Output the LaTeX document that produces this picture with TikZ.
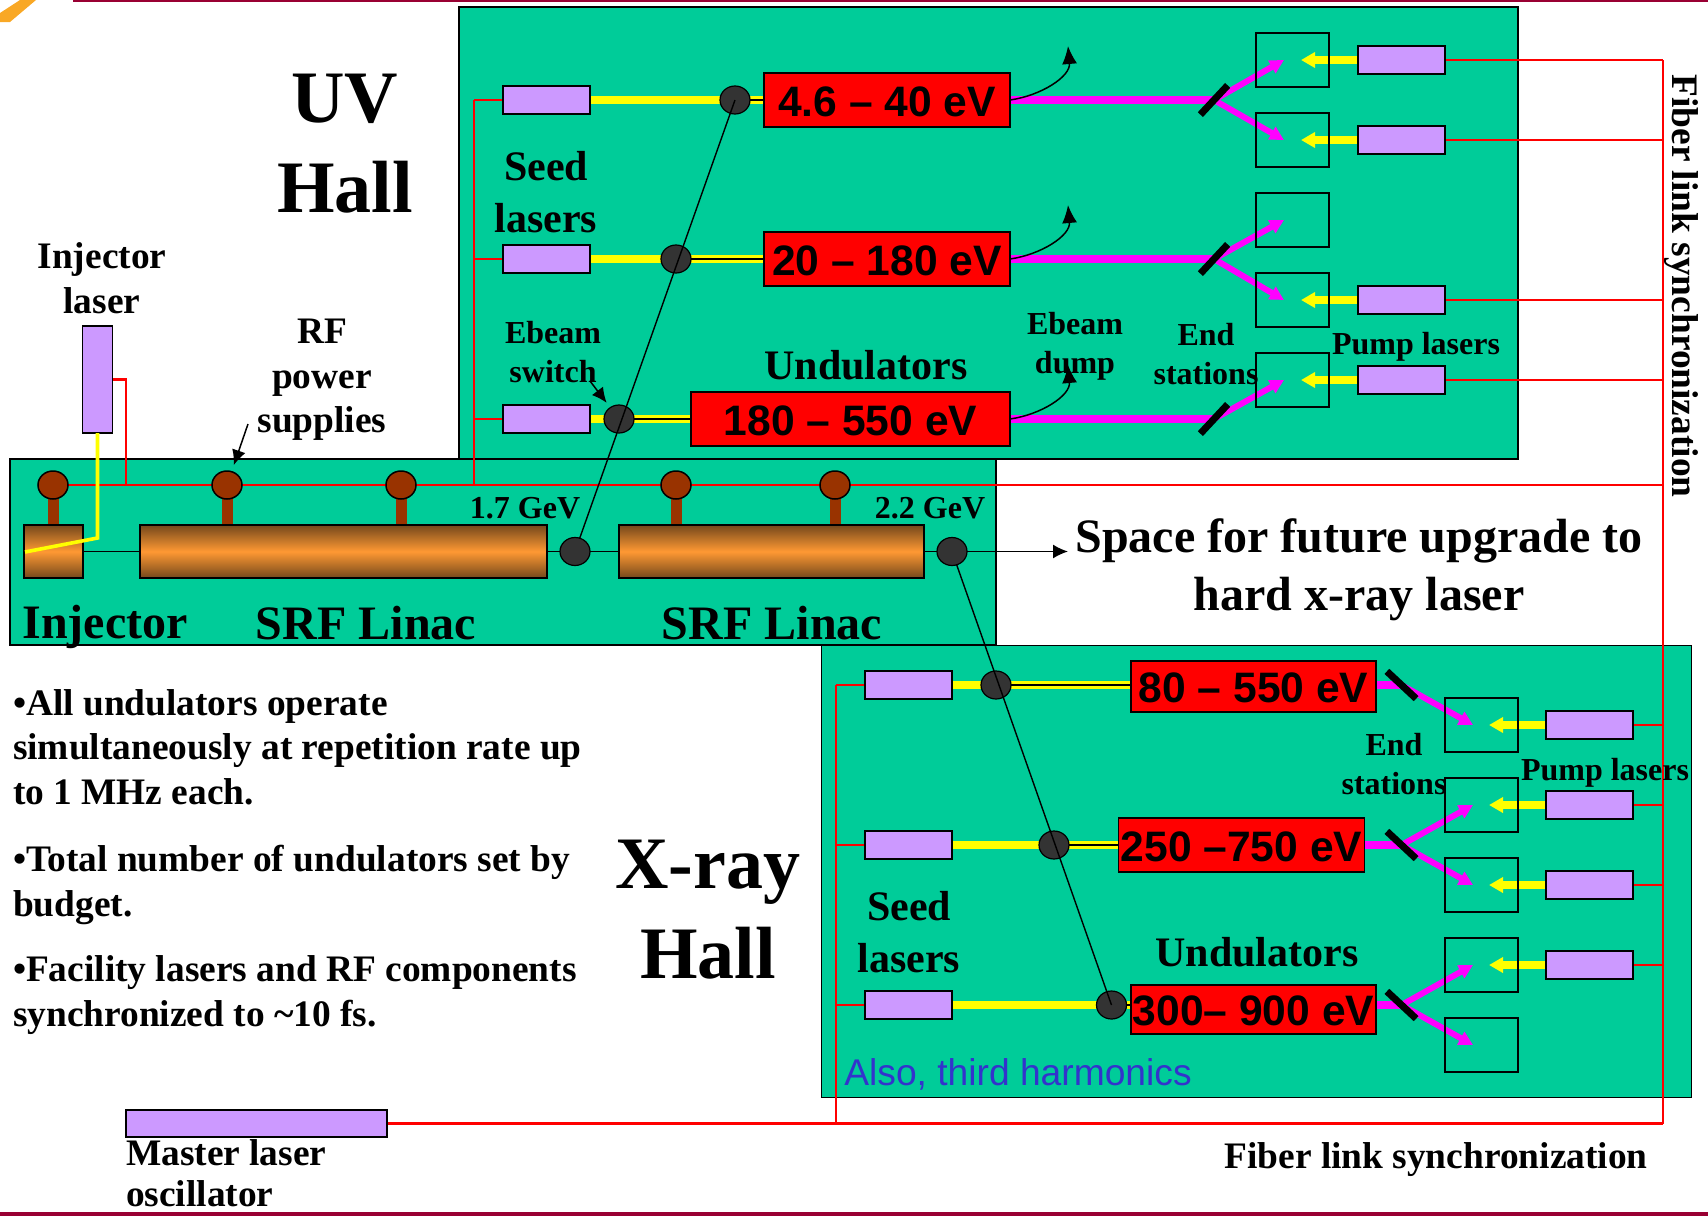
\documentclass[tikz,border=0pt]{standalone}
\usepackage{fontspec}
\setmainfont{Liberation Serif}
\newfontfamily\arialfont{Liberation Sans}
\usepackage{xcolor}
\usepackage{tikz}
\usetikzlibrary{shapes.geometric,arrows.meta,positioning,calc}
\definecolor{hallgreen}{HTML}{00CC99}
\definecolor{laserlilac}{HTML}{CC99FF}
\definecolor{rfbrown}{HTML}{993300}
\definecolor{cavedge}{HTML}{74481C}
\definecolor{cavmid}{HTML}{FF9933}
\definecolor{slidebar}{HTML}{990033}
\definecolor{dotgray}{HTML}{333333}
\definecolor{noteblue}{HTML}{3333CC}
\definecolor{xraypink}{HTML}{FF00FF}
\definecolor{pureyellow}{HTML}{FFFF00}
\definecolor{purered}{HTML}{FF0000}
\definecolor{pencilorange}{HTML}{F9A825}
\pgfdeclarelayer{halls}
\pgfdeclarelayer{beams}
\pgfsetlayers{halls,beams,main}

\begin{document}
\begin{tikzpicture}[
  x=0.5pt, y=-0.5pt,
  every node/.style={inner sep=0pt, outer sep=0pt, font=\bfseries},
  hall/.style={rectangle, draw=black, line width=0.75pt, fill=hallgreen},
  laser/.style={rectangle, draw=black, line width=0.85pt, fill=laserlilac,
                minimum width=43.5pt, minimum height=14pt},
  undulator/.style={rectangle, draw=black, line width=0.85pt, fill=purered, minimum height=27pt,
                    text height=16.2pt, text depth=0pt,
                    font=\arialfont\bfseries\fontsize{21.3}{25}\selectfont},
  station/.style={rectangle, draw=black, line width=0.75pt, minimum width=36.5pt, minimum height=27pt},
  beamdot/.style={ellipse, draw=black, line width=0.6pt, fill=dotgray, minimum width=15pt, minimum height=14pt},
  rfdot/.style={ellipse, draw=black, line width=0.75pt, fill=rfbrown, minimum width=15pt, minimum height=14pt},
  cavity/.style={rectangle, draw=black, line width=0.85pt, minimum height=26.5pt,
                 top color=cavedge, bottom color=cavedge, middle color=cavmid},
  mirrorbar/.style={rectangle, fill=black, minimum width=20pt, minimum height=3.5pt},
  title/.style={align=center, font=\bfseries\fontsize{37}{45}\selectfont},
  bigtext/.style={align=center, font=\bfseries\fontsize{24}{29}\selectfont},
  midtext/.style={align=center, font=\bfseries\fontsize{21}{26}\selectfont},
  bodytext/.style={align=left, font=\bfseries\fontsize{18.7}{22.3}\selectfont},
  smalltext/.style={align=center, font=\bfseries\fontsize{16}{19.5}\selectfont},
  fiber/.style={draw=purered, line width=1.2pt},
  thin line/.style={draw=black, line width=0.7pt},
  rfstem/.style={draw=rfbrown, line width=5.5pt},
  seedbeam/.style={draw=pureyellow, line width=4pt},
  bridge/.style={draw=pureyellow, line width=1.6pt, double=black, double distance=0.8pt},
  pumpbeam/.style={draw=pureyellow, line width=4pt, -{Triangle[length=7pt,width=7.5pt]}},
  xraybeam/.style={draw=xraypink, line width=4pt},
  xraybranch/.style={draw=xraypink, line width=3pt, -{Triangle[length=7pt,width=7pt]}},
  pointer/.style={draw=black, line width=0.75pt, -{Latex[length=7.5pt,width=7pt]}},
  dumpline/.style={draw=black, line width=0.75pt, -{Latex[length=9pt,width=7.5pt]}}
]
  \useasboundingbox (0,0) rectangle (1708,1216);

  \fill[slidebar] (73,0) rectangle (1708,2);
  \fill[slidebar] (0,1212) rectangle (1708,1216);
  \fill[pencilorange] (0,13) -- (20,0) -- (36,0) -- (10,22) -- (0,22) -- cycle;

  \begin{pgfonlayer}{halls}
    \node[hall, minimum width=529.5pt, minimum height=226pt] (hallUV) at (988.5,233) {};
    \node[hall, minimum width=435pt, minimum height=226pt] (hallX) at (1256.5,871.5) {};
    \node[hall, minimum width=493pt, minimum height=93pt] (hallLinac) at (503,552) {};
  \end{pgfonlayer}

  \node[cavity, minimum width=29.5pt] (injector) at (53.5,551.5) {};
  \node[cavity, minimum width=203.5pt, right=28.5pt of injector] (linacA) {};
  \node[beamdot, right=6.5pt of linacA] (dotLinA) {};
  \node[cavity, minimum width=152.5pt, right=14.5pt of dotLinA] (linacB) {};
  \node[beamdot, right=6.5pt of linacB] (dotLinB) {};
  \coordinate (upgrade) at (1068,551.5);

  \node[rfdot] (rfA) at (53,485) {};
  \node[rfdot] (rfB) at (227,485) {};
  \node[rfdot] (rfC) at (401,485) {};
  \node[rfdot] (rfD) at (676,485) {};
  \node[rfdot] (rfE) at (835,485) {};
  \node[laser, minimum width=15pt, minimum height=53.5pt] (injlaser) at (97.5,379.5) {};
  \node[laser, minimum width=130.5pt, minimum height=13.5pt] (master) at (256.5,1123.5) {};

  \node[laser] (seedUVa) at (546.5,100) {};
  \node[laser, below=65.5pt of seedUVa] (seedUVb) {};
  \node[laser, below=66pt of seedUVb] (seedUVc) {};
  \node[beamdot, right=65pt of seedUVa] (dotUVa) {};
  \node[beamdot, right=35.5pt of seedUVb] (dotUVb) {};
  \node[beamdot, right=7pt of seedUVc] (dotUVc) {};
  \node[undulator, minimum width=123pt, right=7pt of dotUVa] (undUVa) {4.6 – 40 eV};
  \node[undulator, minimum width=123pt, right=36.5pt of dotUVb] (undUVb) {20 – 180 eV};
  \node[undulator, minimum width=159.5pt, right=28.5pt of dotUVc] (undUVc) {180 – 550 eV};
  \node[mirrorbar, rotate=47] (mirUVa) at (1214,100) {};
  \node[mirrorbar, rotate=47] (mirUVb) at (1214,259) {};
  \node[mirrorbar, rotate=47] (mirUVc) at (1214,419) {};
  \coordinate[above right=27pt and 29pt of undUVa.east] (dumpA);
  \coordinate[above right=27pt and 29pt of undUVb.east] (dumpB);
  \coordinate[above right=27pt and 29pt of undUVc.east] (dumpC);

  \node[station] (stUVa) at (1292.5,60) {};
  \node[station, below=13pt of stUVa] (stUVb) {};
  \node[station, below=13pt of stUVb] (stUVc) {};
  \node[station, below=13pt of stUVc] (stUVd) {};
  \node[station, below=13pt of stUVd] (stUVe) {};
  \node[laser, right=14.5pt of stUVa] (pumpUVa) {};
  \node[laser, right=14.5pt of stUVb] (pumpUVb) {};
  \node[laser, right=14.5pt of stUVd] (pumpUVc) {};
  \node[laser, right=14.5pt of stUVe] (pumpUVd) {};

  \node[laser] (seedXa) at (908.5,685) {};
  \node[laser, below=66pt of seedXa] (seedXb) {};
  \node[laser, below=66pt of seedXb] (seedXc) {};
  \node[beamdot, right=14.5pt of seedXa] (dotXa) {};
  \node[beamdot, right=43.5pt of seedXb] (dotXb) {};
  \node[beamdot, right=72.25pt of seedXc] (dotXc) {};
  \node[undulator, minimum width=122.5pt, minimum height=25.5pt, right=60pt of dotXa, yshift=-0.75pt] (undXa) {80 – 550 eV};
  \node[undulator, minimum width=123pt, right=24.75pt of dotXb] (undXb) {250 –750 eV};
  \node[undulator, minimum width=122.5pt, minimum height=24.5pt, right=2.25pt of dotXc, yshift=-2.25pt] (undXc) {300– 900 eV};
  \node[mirrorbar, rotate=-43] (mirXa) at (1401.5,685) {};
  \node[mirrorbar, rotate=-43] (mirXb) at (1401.5,845) {};
  \node[mirrorbar, rotate=-43] (mirXc) at (1401.5,1005) {};

  \node[station] (stXa) at (1481.5,725) {};
  \node[station, below=13pt of stXa] (stXb) {};
  \node[station, below=13pt of stXb] (stXc) {};
  \node[station, below=13pt of stXc] (stXd) {};
  \node[station, below=13pt of stXd] (stXe) {};
  \node[laser, right=14pt of stXa] (pumpXa) {};
  \node[laser, right=14pt of stXb] (pumpXb) {};
  \node[laser, right=14pt of stXc] (pumpXc) {};
  \node[laser, right=14pt of stXd] (pumpXd) {};

  \coordinate (fiberNE) at (1663,60);
  \coordinate (busUV) at (474,100);
  \coordinate (busX) at (836,685);
  \coordinate (injtap) at (126,485);
  \coordinate (injbend) at (97.5,538);
  \coordinate (injend) at (25,552);
  \coordinate (rfnote) at (248,424);
  \coordinate (switchnote) at (590,381);

  \begin{pgfonlayer}{beams}
    \draw[fiber] (fiberNE) -- (fiberNE |- master);
    \draw[fiber] (master) -- (master -| fiberNE);
    \draw[fiber] (rfA) -- (rfA -| fiberNE);
    \draw[fiber] (injlaser.east) -| (injtap);
    \draw[fiber] (busUV) -- (busUV |- rfA);
    \draw[fiber] (busX) -- (busX |- master);
    \draw[fiber] (seedUVa) -- (seedUVa -| busUV);
    \draw[fiber] (seedUVb) -- (seedUVb -| busUV);
    \draw[fiber] (seedUVc) -- (seedUVc -| busUV);
    \draw[fiber] (seedXa) -- (seedXa -| busX);
    \draw[fiber] (seedXb) -- (seedXb -| busX);
    \draw[fiber] (seedXc) -- (seedXc -| busX);
    \draw[fiber] (pumpUVa) -- (pumpUVa -| fiberNE);
    \draw[fiber] (pumpUVb) -- (pumpUVb -| fiberNE);
    \draw[fiber] (pumpUVc) -- (pumpUVc -| fiberNE);
    \draw[fiber] (pumpUVd) -- (pumpUVd -| fiberNE);
    \draw[fiber] (pumpXa) -- (pumpXa -| fiberNE);
    \draw[fiber] (pumpXb) -- (pumpXb -| fiberNE);
    \draw[fiber] (pumpXc) -- (pumpXc -| fiberNE);
    \draw[fiber] (pumpXd) -- (pumpXd -| fiberNE);

    \draw[rfstem] (rfA) -- (rfA |- injector.north);
    \draw[rfstem] (rfB) -- (rfB |- linacA.north);
    \draw[rfstem] (rfC) -- (rfC |- linacA.north);
    \draw[rfstem] (rfD) -- (rfD |- linacB.north);
    \draw[rfstem] (rfE) -- (rfE |- linacB.north);

    \draw[thin line] (injector) -- (linacA);
    \draw[thin line] (linacA) -- (dotLinA);
    \draw[thin line] (dotLinA) -- (linacB);
    \draw[thin line] (linacB) -- (dotLinB);

    \draw[seedbeam] (seedUVa) -- (dotUVa);
    \draw[seedbeam] (seedUVb) -- (dotUVb);
    \draw[seedbeam] (seedUVc) -- (dotUVc);
    \draw[seedbeam] (seedXa) -- (dotXa);
    \draw[seedbeam] (seedXb) -- (dotXb);
    \draw[seedbeam] (seedXc) -- (dotXc);
    \draw[bridge] (dotUVa) -- (undUVa);
    \draw[bridge] (dotUVb) -- (undUVb);
    \draw[bridge] (dotUVc) -- (undUVc);
    \draw[bridge] (dotXa) -- (undXa.west |- dotXa);
    \draw[bridge] (dotXb) -- (undXb);
    \draw[bridge] (dotXc) -- (undXc.west |- dotXc);

    \draw[xraybeam] (undUVa) -- (mirUVa.center);
    \draw[xraybeam] (undUVb) -- (mirUVb.center);
    \draw[xraybeam] (undUVc) -- (mirUVc.center);
    \draw[xraybeam] (undXa.east |- mirXa) -- (mirXa.center);
    \draw[xraybeam] (undXb) -- (mirXb.center);
    \draw[xraybeam] (undXc.east |- mirXc) -- (mirXc.center);
    \draw[xraybranch] (mirUVa.center) -- ($(stUVa)+(-8.5,0)$);
    \draw[xraybranch] (mirUVa.center) -- ($(stUVb)+(-8.5,0)$);
    \draw[xraybranch] (mirUVb.center) -- ($(stUVc)+(-8.5,0)$);
    \draw[xraybranch] (mirUVb.center) -- ($(stUVd)+(-8.5,0)$);
    \draw[xraybranch] (mirUVc.center) -- ($(stUVe)+(-8.5,0)$);
    \draw[xraybranch] (mirXa.center) -- ($(stXa)+(-8.5,0)$);
    \draw[xraybranch] (mirXb.center) -- ($(stXb)+(-8.5,0)$);
    \draw[xraybranch] (mirXb.center) -- ($(stXc)+(-8.5,0)$);
    \draw[xraybranch] (mirXc.center) -- ($(stXd)+(-8.5,0)$);
    \draw[xraybranch] (mirXc.center) -- ($(stXe)+(-8.5,0)$);

    \draw[pumpbeam] (pumpUVa) -- ($(stUVa)+(8.5,0)$);
    \draw[pumpbeam] (pumpUVb) -- ($(stUVb)+(8.5,0)$);
    \draw[pumpbeam] (pumpUVc) -- ($(stUVd)+(8.5,0)$);
    \draw[pumpbeam] (pumpUVd) -- ($(stUVe)+(8.5,0)$);
    \draw[pumpbeam] (pumpXa) -- ($(stXa)+(7.5,0)$);
    \draw[pumpbeam] (pumpXb) -- ($(stXb)+(7.5,0)$);
    \draw[pumpbeam] (pumpXc) -- ($(stXc)+(7.5,0)$);
    \draw[pumpbeam] (pumpXd) -- ($(stXd)+(7.5,0)$);
  \end{pgfonlayer}

  \draw[thin line] (dotLinA) -- (dotUVa.center);
  \draw[thin line] (dotLinB) -- (dotXc.center);
  \draw[pointer] (dotLinB) -- (upgrade);
  \draw[dumpline] (undUVa.east) to[out=8,in=-85] (dumpA);
  \draw[dumpline] (undUVb.east) to[out=8,in=-85] (dumpB);
  \draw[dumpline] (undUVc.east) to[out=8,in=-85] (dumpC);
  \draw[pointer, shorten >=3.5pt] (rfnote) -- (rfB);
  \draw[pointer, shorten >=3pt] (switchnote) -- (dotUVc);
  \draw[draw=pureyellow, line width=1.8pt] (injlaser.south) -- (injbend) -- (injend);

  \node[title] (lblUV) at (345,143.5) {UV\\Hall};
  \node[title] (lblX) at (708,910) {X-ray\\Hall};
  \node[midtext] (lblSeedUV) at (546,192) {Seed\\lasers};
  \node[midtext] (lblSeedX) at (909,932) {Seed\\lasers};
  \node[midtext] (lblUndUV) at (866,365) {Undulators};
  \node[midtext] (lblUndX) at (1257,952) {Undulators};
  \node[bodytext, align=center] (lblInjlaser) at (102,278) {Injector\\laser};
  \node[bodytext, align=center] (lblRF) at (322,380) {RF\\power\\supplies};
  \node[smalltext] (lblSwitch) at (553,352) {Ebeam\\switch};
  \node[smalltext] (lblDump) at (1075,346) {Ebeam\\dump};
  \node[smalltext] (lblEndUV) at (1206,354) {End\\stations};
  \node[smalltext] (lblEndX) at (1394,764) {End\\stations};
  \node[smalltext] (lblPumpUV) at (1416,347) {Pump lasers};
  \node[smalltext] (lblPumpX) at (1605,773) {Pump lasers};
  \node[smalltext] (lblGevA) at (525,508) {1.7 GeV};
  \node[smalltext] (lblGevB) at (930,508) {2.2 GeV};
  \node[bigtext] (lblInjector) at (105,627) {Injector};
  \node[bigtext] (lblLinacA) at (366,623) {SRF Linac};
  \node[bigtext] (lblLinacB) at (772,623) {SRF Linac};
  \node[bigtext] (lblUpgrade) at (1359,570) {Space for future upgrade to\\hard x-ray laser};
  \node[bodytext, anchor=west] (lblBulletA) at (13,747) {•All undulators operate\\simultaneously at repetition rate up\\to 1 MHz each.};
  \node[bodytext, anchor=west] (lblBulletB) at (13,885) {•Total number of undulators set by\\budget.};
  \node[bodytext, anchor=west] (lblBulletC) at (13,995) {•Facility lasers and RF components\\synchronized to \char`\~10 fs.};
  \node[font=\arialfont\fontsize{18.6}{22}\selectfont, text=noteblue] (lblThird) at (1018,1074) {Also, third harmonics};
  \node[bodytext, rotate=-90] (lblFiberV) at (1681,286) {Fiber link synchronization};
  \node[bodytext] (lblFiberH) at (1436,1160) {Fiber link synchronization};
  \node[bodytext, anchor=north west, text depth=0pt, font=\bfseries\fontsize{18.7}{20.5}\selectfont] (lblMaster) at (126,1140) {Master laser\\oscillator};
\end{tikzpicture}
\end{document}
